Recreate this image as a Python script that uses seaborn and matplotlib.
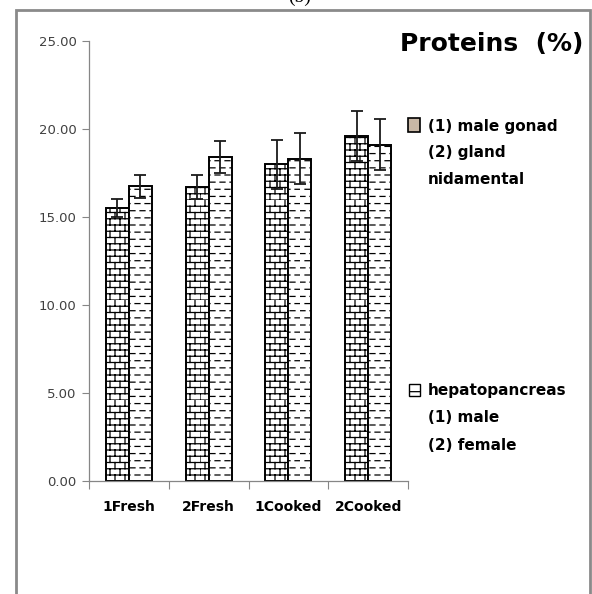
import warnings
import numpy as np
import pandas as pd
import matplotlib
matplotlib.use("Agg")
import matplotlib.pyplot as plt
import matplotlib.hatch as mhatch
from matplotlib.path import Path
from matplotlib.patches import Rectangle
import seaborn as sns

warnings.filterwarnings("ignore")

# values
samples = ["1Fresh", "2Fresh", "1Cooked", "2Cooked"]
groups = ["gonad", "hepatopancreas"]
gonad = [15.5, 16.7, 18.0, 19.6]
gonad_err = [0.5, 0.7, 1.4, 1.4]
hepato = [16.75, 18.4, 18.3, 19.1]
hepato_err = [0.65, 0.9, 1.45, 1.45]
yticks = [0, 5, 10, 15, 20, 25]

legend1 = ["(1) male gonad", "(2) gland", "nidamental"]
legend2 = ["hepatopancreas", "(1) male", "(2) female"]

df = pd.DataFrame({
    "sample": samples * 2,
    "group": [groups[0]] * 4 + [groups[1]] * 4,
    "value": gonad + hepato,
    "err": gonad_err + hepato_err,
})


# Excel-like fill patterns: brick ('b') and staggered dashes ('d')
class BrickHatch(mhatch.HatchPatternBase):
    rows, cols = 16, 10

    def __init__(self, hatch, density):
        self.on = "b" in hatch
        # one horizontal line per row + vertical joints between rows
        self.num_vertices = (self.rows + self.rows * self.cols) * 2 if self.on else 0

    def set_vertices_and_codes(self, vertices, codes):
        v = []
        h = 1.0 / self.rows
        w = 1.0 / self.cols
        for r in range(self.rows):
            y = r * h
            v += [(0.0, y), (1.0, y)]
            off = 0.0 if r % 2 == 0 else w / 2
            for c in range(self.cols):
                x = c * w + off
                v += [(x, y), (x, y + h)]
        vertices[:] = v
        codes[0::2] = Path.MOVETO
        codes[1::2] = Path.LINETO


class DashHatch(mhatch.HatchPatternBase):
    rows, cols = 14, 10

    def __init__(self, hatch, density):
        self.on = "d" in hatch
        self.num_vertices = self.rows * self.cols * 2 if self.on else 0

    def set_vertices_and_codes(self, vertices, codes):
        v = []
        h = 1.0 / self.rows
        w = 1.0 / self.cols
        for r in range(self.rows):
            y = (r + 0.5) * h
            off = 0.0 if r % 2 == 0 else w / 2
            for c in range(self.cols):
                x = c * w + off
                v += [(x, y), (x + w * 0.5, y)]
        vertices[:] = v
        codes[0::2] = Path.MOVETO
        codes[1::2] = Path.LINETO


mhatch._hatch_types.append(BrickHatch)
mhatch._hatch_types.append(DashHatch)

sns.set_style("white")
plt.rcParams["font.family"] = ["DejaVu Sans"]
plt.rcParams["text.color"] = "black"
plt.rcParams["hatch.linewidth"] = 0.9

fig = plt.figure(figsize=(5.92, 5.94), dpi=100)
ax = fig.add_axes([89 / 592, 1 - 481 / 594, (408 - 89) / 592, (481 - 41) / 594])

sns.barplot(data=df, x="sample", y="value", hue="group", order=samples,
            hue_order=groups, width=0.575, errorbar=None, ax=ax,
            palette=["white", "white"], edgecolor="black", linewidth=1.4,
            legend=False)

# hatches + error bars, one per bar
hatches = {"gonad": "b", "hepatopancreas": "d"}
bars = ax.patches
for i, g in enumerate(groups):
    sub = df[df["group"] == g]
    xs = []
    for j in range(len(samples)):
        b = bars[i * len(samples) + j]
        b.set_hatch(hatches[g])
        xs.append(b.get_x() + b.get_width() / 2)
    ax.errorbar(xs, sub["value"], yerr=sub["err"], fmt="none",
                ecolor="#1a1a1a", elinewidth=1.3, capsize=4.5, capthick=1.3)

ax.set_ylim(0, 25)
ax.set_xlim(-0.5, 3.5)
ax.set_yticks(yticks)
ax.set_yticklabels(["%.2f" % v for v in yticks])
ax.set_xlabel("")
ax.set_ylabel("")
ax.set_xticks(np.arange(len(samples)))
ax.set_xticks(np.arange(len(samples) + 1) - 0.5, minor=True)
ax.tick_params(axis="x", which="major", length=0, pad=14, labelsize=10,
               labelcolor="black")
ax.tick_params(axis="x", which="minor", length=6, width=0.8, color="#868686",
               direction="out", bottom=True)
ax.tick_params(axis="y", length=5, width=0.8, color="#868686", direction="out",
               left=True, labelsize=9.5, labelcolor="#404040", pad=4)
for lab in ax.get_xticklabels():
    lab.set_fontweight("bold")

sns.despine(ax=ax)
for s in ["left", "bottom"]:
    ax.spines[s].set_color("#868686")
    ax.spines[s].set_linewidth(0.9)

# title and side legend
fig.text(583 / 592, 1 - 44 / 594, "Proteins  (%)", ha="right", va="center",
         fontsize=18, fontweight="bold")

fig.add_artist(Rectangle((408 / 592, 1 - 132 / 594), 12 / 592, 14 / 594,
                         transform=fig.transFigure, facecolor="#c9b8a6",
                         edgecolor="black", linewidth=1.2))
for k, line in enumerate(legend1):
    fig.text(428 / 592, 1 - (126 + 26.5 * k) / 594, line, ha="left",
             va="center", fontsize=11, fontweight="bold")

fig.add_artist(Rectangle((409 / 592, 1 - 396 / 594), 11 / 592, 12 / 594,
                         transform=fig.transFigure, facecolor="white",
                         edgecolor="black", linewidth=1.0, hatch="-"))
for k, line in enumerate(legend2):
    fig.text(428 / 592, 1 - (390 + 27.5 * k) / 594, line, ha="left",
             va="center", fontsize=11, fontweight="bold")

# outer frame and cut-off panel label
fig.add_artist(Rectangle((15.7 / 592, -0.05), (590 - 15.7) / 592, 1.05 - 9.5 / 594,
                         transform=fig.transFigure, fill=False,
                         edgecolor="#8a8a8a", linewidth=2))
fig.text(300 / 592, 1 + 3 / 594, "(b)", ha="center", va="center",
         fontsize=14, family="Liberation Serif")

fig.savefig("out.png", dpi=100)
